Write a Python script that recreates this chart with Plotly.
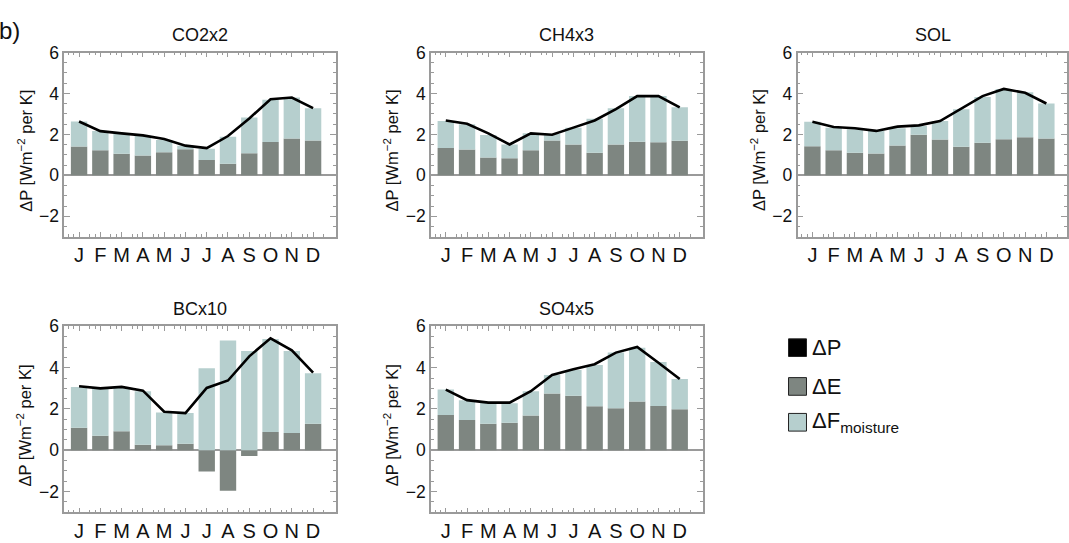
import plotly.graph_objects as go

W, H = 1069, 543

months = ["J", "F", "M", "A", "M", "J", "J", "A", "S", "O", "N", "D"]
month_pos = list(range(1, 13))

# ---- data ----
titles = ["CO2x2", "CH4x3", "SOL", "BCx10", "SO4x5"]

co2_E = [1.41, 1.22, 1.05, 0.97, 1.13, 1.27, 0.75, 0.56, 1.08, 1.63, 1.80, 1.70]
co2_F = [1.22, 0.94, 0.98, 0.95, 0.59, 0.18, 0.55, 1.33, 1.75, 2.06, 2.00, 1.58]
co2_P = [2.63, 2.16, 2.05, 1.95, 1.77, 1.45, 1.33, 1.92, 2.78, 3.72, 3.80, 3.28]

ch4_E = [1.34, 1.26, 0.87, 0.83, 1.23, 1.70, 1.51, 1.10, 1.50, 1.64, 1.61, 1.69]
ch4_F = [1.31, 1.23, 1.10, 0.68, 0.82, 0.32, 0.82, 1.66, 1.78, 2.23, 2.26, 1.63]
ch4_P = [2.68, 2.52, 2.05, 1.51, 2.05, 1.98, 2.33, 2.68, 3.23, 3.87, 3.87, 3.32]

sol_E = [1.42, 1.23, 1.10, 1.07, 1.46, 1.98, 1.75, 1.39, 1.59, 1.76, 1.86, 1.80]
sol_F = [1.20, 1.10, 1.15, 1.10, 0.84, 0.43, 0.90, 1.84, 2.24, 2.46, 2.20, 1.71]
sol_P = [2.62, 2.36, 2.30, 2.17, 2.38, 2.44, 2.65, 3.28, 3.87, 4.22, 4.03, 3.51]

bc_E = [1.09, 0.70, 0.92, 0.27, 0.24, 0.32, -1.03, -1.96, -0.28, 0.89, 0.84, 1.28]
bc_F = [1.98, 2.32, 2.10, 2.59, 1.59, 1.48, 3.97, 5.31, 4.81, 4.50, 3.97, 2.45]
bc_P = [3.10, 3.00, 3.07, 2.89, 1.87, 1.80, 3.02, 3.38, 4.55, 5.42, 4.84, 3.76]

so4_E = [1.71, 1.47, 1.28, 1.33, 1.68, 2.75, 2.64, 2.13, 2.04, 2.36, 2.15, 1.99]
so4_F = [1.23, 0.95, 1.03, 0.95, 1.18, 0.90, 1.25, 2.00, 2.69, 2.60, 2.12, 1.46]
so4_P = [2.94, 2.43, 2.31, 2.31, 2.86, 3.65, 3.92, 4.17, 4.73, 5.00, 4.24, 3.45]

y_ticks = [-2, 0, 2, 4, 6]

# ---- styling ----
FONT = "Liberation Sans, Arial, sans-serif"
DARK = "#7e8681"
LIGHT = "#b6cfce"
FRAME = "#9a9a9a"

# panel pixel boxes: (left, right, top, bottom)
boxes = [
    (64.3, 336.7, 43.3, 231.0),
    (431.7, 704.0, 43.3, 231.0),
    (799.0, 1069.0, 43.3, 231.0),
    (64.3, 336.7, 322.3, 511.7),
    (431.7, 704.0, 322.3, 511.7),
]
title_cx = [200.5, 568, 935, 200.5, 568]
xranges = [[0.3, 13.08], [0.3, 13.08], [0.3, 12.97], [0.3, 13.08], [0.3, 13.08]]

series = [
    (co2_E, co2_F, co2_P),
    (ch4_E, ch4_F, ch4_P),
    (sol_E, sol_F, sol_P),
    (bc_E, bc_F, bc_P),
    (so4_E, so4_F, so4_P),
]

fig = go.Figure()
annotations = []
shapes = []

for i, (title, (E, F, P), box, xr, tcx) in enumerate(zip(titles, series, boxes, xranges, title_cx), start=1):
    xa = "x" if i == 1 else f"x{i}"
    ya = "y" if i == 1 else f"y{i}"
    fig.add_trace(go.Bar(x=month_pos, y=E, marker=dict(color=DARK, line=dict(width=0)),
                         xaxis=xa, yaxis=ya, showlegend=False, width=0.77))
    fig.add_trace(go.Bar(x=month_pos, y=F, marker=dict(color=LIGHT, line=dict(width=0)),
                         xaxis=xa, yaxis=ya, showlegend=False, width=0.77))
    fig.add_trace(go.Scatter(x=month_pos, y=P, mode="lines", line=dict(color="black", width=2.6),
                             xaxis=xa, yaxis=ya, showlegend=False))
    l, r, t, b = box
    xdom = [l / W, min(r / W, 1.0)]
    ydom = [1 - b / H, 1 - t / H]
    key = "" if i == 1 else str(i)
    fig.update_layout(**{
        f"xaxis{key}": dict(
            domain=xdom, range=xr, anchor=ya, tickmode="array", tickvals=month_pos, ticktext=months,
            ticks="inside", ticklen=5, tickcolor=FRAME, showline=True, linecolor=FRAME, linewidth=1.5,
            mirror="ticks", showgrid=False, zeroline=False,
            tickfont=dict(family=FONT, size=20, color="#111"),
            minor=dict(tickmode="array", tickvals=[m + 0.5 for m in range(0, 13)] + [m - 0.25 for m in month_pos],
                       ticks="inside", ticklen=3, tickcolor=FRAME, showgrid=False),
            fixedrange=True,
        ),
        f"yaxis{key}": dict(
            domain=ydom, range=[-3, 6], anchor=xa, tickmode="array", tickvals=y_ticks,
            ticks="inside", ticklen=6, tickcolor=FRAME, showline=True, linecolor=FRAME, linewidth=1.5,
            mirror="ticks", showgrid=False, zeroline=True, zerolinecolor=FRAME, zerolinewidth=1.5,
            tickfont=dict(family=FONT, size=17.5, color="#111"),
            minor=dict(dtick=0.5, tick0=0, ticks="inside", ticklen=3, tickcolor=FRAME, showgrid=False),
            fixedrange=True,
        ),
    })
    annotations.append(dict(text=title, x=tcx / W, y=1 - (t - 18) / H,
                            xref="paper", yref="paper", showarrow=False, xanchor="center", yanchor="middle",
                            font=dict(family=FONT, size=18, color="#111")))
    annotations.append(dict(text="ΔP [Wm<sup>−2</sup> per K]", x=(l - 40) / W, y=1 - ((t + b) / 2 + 6) / H,
                            xref="paper", yref="paper", showarrow=False, textangle=-90,
                            xanchor="center", yanchor="middle",
                            font=dict(family=FONT, size=16.5, color="#111")))

# panel label
annotations.append(dict(text="b)", x=22 / W, y=1 - 21 / H, xref="paper", yref="paper", showarrow=False,
                        xanchor="right", yanchor="middle", font=dict(family=FONT, size=24, color="#111")))

# legend
legend_items = [("ΔP", "#000000"), ("ΔE", DARK), ("ΔF<sub>moisture</sub>", LIGHT)]
legend_y = [344, 383.5, 420]
for (label, col), yc in zip(legend_items, legend_y):
    shapes.append(dict(type="rect", xref="paper", yref="paper",
                       x0=790 / W, x1=808 / W, y0=1 - (yc + 9) / H, y1=1 - (yc - 9) / H,
                       fillcolor=col, line=dict(color="#222", width=1)))
    annotations.append(dict(text=label, x=812 / W, y=1 - yc / H, xref="paper", yref="paper",
                            showarrow=False, xanchor="left", yanchor="middle",
                            font=dict(family=FONT, size=22, color="#111")))

fig.update_layout(
    width=W, height=H, margin=dict(l=0, r=0, t=0, b=0),
    paper_bgcolor="white", plot_bgcolor="white",
    barmode="relative", bargap=0.23,
    annotations=annotations, shapes=shapes,
    showlegend=False,
)

fig.write_html("out.html")
